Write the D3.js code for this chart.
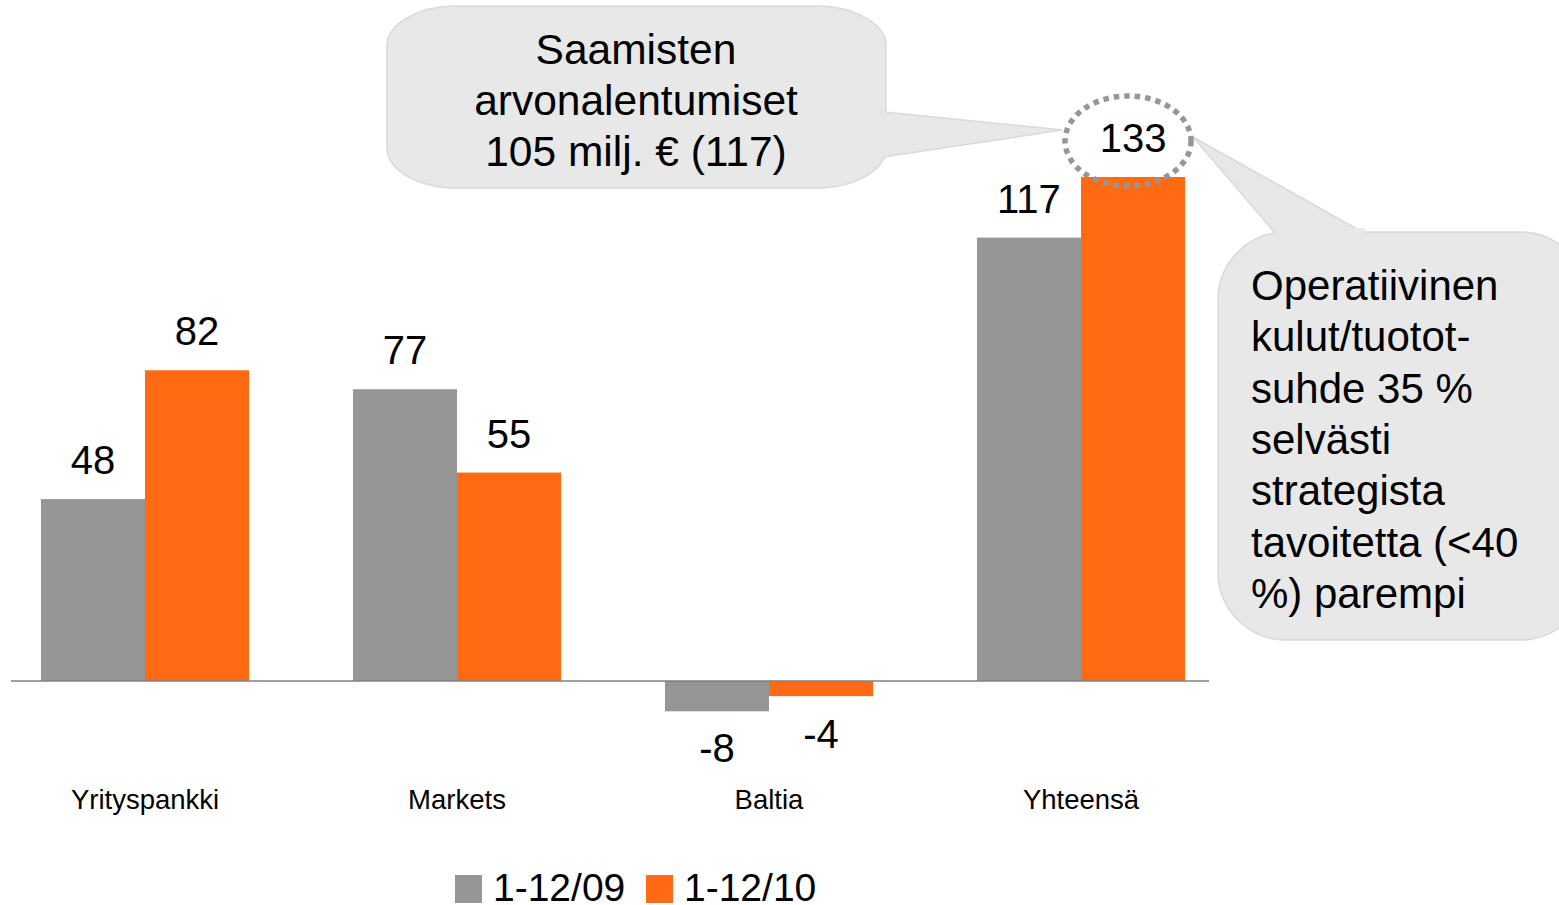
<!DOCTYPE html>
<html>
<head>
<meta charset="utf-8">
<script src="https://cdn.jsdelivr.net/npm/d3@7"></script>
<style>
  body { margin: 0; background: #fff; }
  svg { display: block; font-family: "Liberation Sans", Arial, sans-serif; }
</style>
</head>
<body>
<svg width="1559" height="905"></svg>
<script>
// chart data
var categories = ['Yrityspankki', 'Markets', 'Baltia', 'Yhteensä'];
var seriesNames = ['1-12/09', '1-12/10'];
var values09 = [48, 77, -8, 117];
var values10 = [82, 55, -4, 133];
var colors = ['#969696', '#FF6A13'];

var leftNote = ['Saamisten', 'arvonalentumiset', '105 milj. € (117)'];
var rightNote = ['Operatiivinen', 'kulut/tuotot-', 'suhde 35 %', 'selvästi', 'strategista', 'tavoitetta (<40', '%) parempi'];

var svg = d3.select('svg');

var x = d3.scaleBand()
  .domain(categories)
  .range([-11, 1237])
  .paddingInner(0.333)
  .paddingOuter(0.1665);

var xs = d3.scaleBand()
  .domain(seriesNames)
  .range([0, x.bandwidth()]);

var y = d3.scaleLinear()
  .domain([0, 133])
  .range([681, 177]);

var rows = categories.map(function (c, i) {
  return { cat: c, vals: [values09[i], values10[i]] };
});

function cells(d) {
  return d.vals.map(function (v, j) { return { v: v, s: seriesNames[j], j: j }; });
}

// bars
var groups = svg.selectAll('g.grp')
  .data(rows)
  .enter().append('g')
    .attr('class', 'grp')
    .attr('transform', function (d) { return 'translate(' + x(d.cat) + ',0)'; });

groups.selectAll('rect')
  .data(cells)
  .enter().append('rect')
    .attr('x', function (d) { return xs(d.s); })
    .attr('width', xs.bandwidth())
    .attr('y', function (d) { return Math.min(y(d.v), y(0)); })
    .attr('height', function (d) { return Math.abs(y(d.v) - y(0)); })
    .attr('fill', function (d) { return colors[d.j]; });

// value labels
groups.selectAll('text.val')
  .data(cells)
  .enter().append('text')
    .attr('class', 'val')
    .attr('x', function (d) { return xs(d.s) + xs.bandwidth() / 2; })
    .attr('y', function (d) {
      if (d.v < 0) return y(0) + (d.j === 0 ? 81 : 67);
      return y(d.v) - 25;
    })
    .attr('text-anchor', 'middle')
    .style('font-size', '40px')
    .attr('fill', '#000')
    .text(function (d) { return d.v; });

// axis line
svg.append('line')
  .attr('x1', 11).attr('x2', 1209)
  .attr('y1', y(0)).attr('y2', y(0))
  .attr('stroke', '#808080')
  .attr('stroke-width', 1.5);

// category labels
svg.selectAll('text.cat')
  .data(categories)
  .enter().append('text')
    .attr('class', 'cat')
    .attr('x', function (d) { return x(d) + x.bandwidth() / 2; })
    .attr('y', 809)
    .attr('text-anchor', 'middle')
    .style('font-size', '27.5px')
    .text(function (d) { return d; });

// legend
var legend = svg.append('g');
var legX = [455, 646];
seriesNames.forEach(function (s, i) {
  legend.append('rect')
    .attr('x', legX[i]).attr('y', 875)
    .attr('width', 27).attr('height', 28)
    .attr('fill', colors[i]);
  legend.append('text')
    .attr('x', legX[i] + 38).attr('y', 901)
    .style('font-size', '39px')
    .text(s);
});

// callouts
var bubbleFill = '#E8E8E8', bubbleStroke = '#D9D9D9';

// left bubble with tail to the circled 133
var lb = svg.append('g');
lb.append('path')
  .attr('d', 'M884,112 L1062,130 L884,157 Z')
  .attr('fill', bubbleFill).attr('stroke', bubbleStroke).attr('stroke-width', 1.5);
lb.append('rect')
  .attr('x', 387).attr('y', 6).attr('width', 499).attr('height', 182)
  .attr('rx', 70).attr('ry', 40)
  .attr('fill', bubbleFill).attr('stroke', bubbleStroke).attr('stroke-width', 1.5);
lb.append('rect')
  .attr('x', 880).attr('y', 113).attr('width', 8).attr('height', 43)
  .attr('fill', bubbleFill);
lb.selectAll('text')
  .data(leftNote)
  .enter().append('text')
    .attr('x', 636)
    .attr('y', function (d, i) { return 64 + i * 51; })
    .attr('text-anchor', 'middle')
    .style('font-size', '42.5px')
    .text(function (d) { return d; });

// right bubble
var rb = svg.append('g');
rb.append('path')
  .attr('d', 'M1276,234 L1193,137 L1366,234 Z')
  .attr('fill', bubbleFill).attr('stroke', bubbleStroke).attr('stroke-width', 1.5);
rb.append('rect')
  .attr('x', 1218).attr('y', 232).attr('width', 370).attr('height', 408)
  .attr('rx', 68).attr('ry', 68)
  .attr('fill', bubbleFill).attr('stroke', bubbleStroke).attr('stroke-width', 1.5);
rb.append('rect')
  .attr('x', 1277).attr('y', 228).attr('width', 88).attr('height', 8)
  .attr('fill', bubbleFill);
rb.selectAll('text')
  .data(rightNote)
  .enter().append('text')
    .attr('x', 1251)
    .attr('y', function (d, i) { return 300 + i * 51.3; })
    .style('font-size', '42px')
    .text(function (d) { return d; });

// dotted ring round the 133 label
svg.append('ellipse')
  .attr('cx', x('Yhteensä') + xs('1-12/10') + xs.bandwidth() / 2 - 5)
  .attr('cy', 141)
  .attr('rx', 63).attr('ry', 45)
  .attr('fill', 'none')
  .attr('stroke', '#969696')
  .attr('stroke-width', 5.5)
  .attr('stroke-dasharray', '5.5 5');
</script>
</body>
</html>
